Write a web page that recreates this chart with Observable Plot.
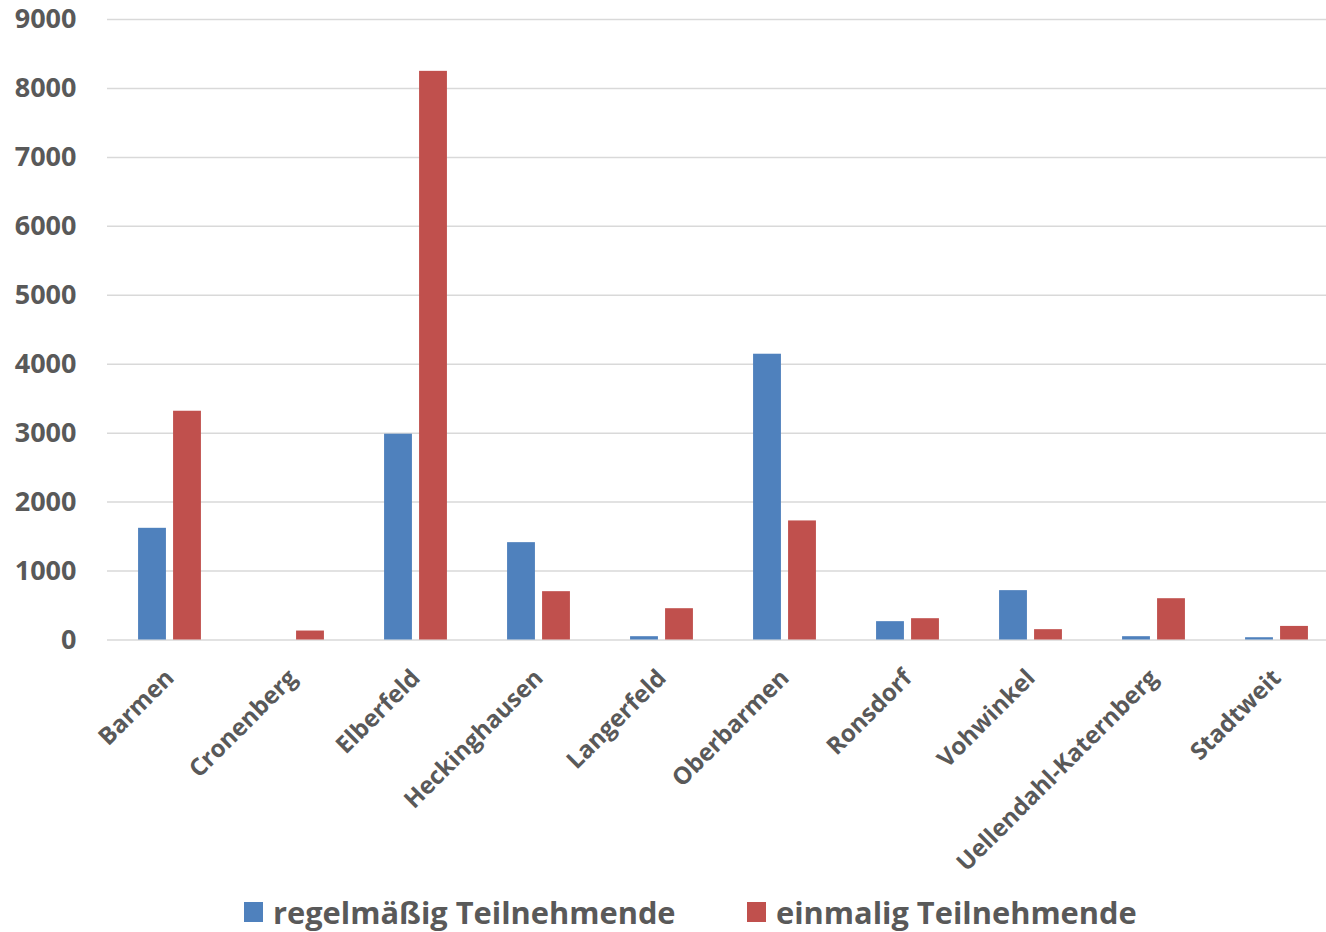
<!DOCTYPE html>
<html><head><meta charset="utf-8">
<script src="https://cdn.jsdelivr.net/npm/d3@7"></script>
<script src="https://cdn.jsdelivr.net/npm/@observablehq/plot@0.6"></script>
<style>
body{margin:0;background:#fff;font-family:"Open Sans",sans-serif;}
#wrap{position:relative;width:1326px;height:932px;overflow:hidden;}
#wrap svg{position:absolute;left:0;top:0;}
.legend-item{position:absolute;top:894px;display:flex;align-items:center;font-weight:700;font-size:30.8px;color:#595959;line-height:36px;height:36px;}
.sw{width:19px;height:20px;margin-right:10px;}
</style></head><body><div id="wrap"></div>
<script>
const categories = ["Barmen","Cronenberg","Elberfeld","Heckinghausen","Langerfeld","Oberbarmen","Ronsdorf","Vohwinkel","Uellendahl-Katernberg","Stadtweit"];
const regelmaessig = [1620, 0, 2985, 1412, 48, 4145, 266, 716, 48, 33];
const einmalig = [3318, 130, 8248, 701, 454, 1727, 309, 150, 599, 197];
const seriesNames = ["regelmäßig Teilnehmende", "einmalig Teilnehmende"];
const seriesColors = ["#4f81bd", "#c0504d"];
const yTicks = [0, 1000, 2000, 3000, 4000, 5000, 6000, 7000, 8000, 9000];

const data = categories.flatMap((c, i) => [
  {category: c, series: seriesNames[0], value: regelmaessig[i]},
  {category: c, series: seriesNames[1], value: einmalig[i]}
]);

const step = 123.15;
const left = 107;
const barW = 28, gap = 7;
const off = (step - (2 * barW + gap)) / 2;

const chart = Plot.plot({
  width: 1326,
  height: 880,
  marginLeft: left,
  marginRight: 0,
  marginTop: 19,
  marginBottom: 240.5,
  style: {color: "#595959", fontFamily: "'Open Sans', sans-serif", fontWeight: "bold", background: "#fff", overflow: "hidden"},
  x: {type: "band", domain: categories, range: [left, left + step * categories.length], padding: 0},
  y: {domain: [0, 9000], range: [639.5, 19]},
  marks: [
    Plot.ruleY(yTicks, {stroke: "#d9d9d9", strokeWidth: 1.5}),
    Plot.barY(data.filter(d => d.series === seriesNames[0]), {x: "category", y: "value", fill: seriesColors[0], insetLeft: off, insetRight: step - off - barW}),
    Plot.barY(data.filter(d => d.series === seriesNames[1]), {x: "category", y: "value", fill: seriesColors[1], insetLeft: off + barW + gap, insetRight: off}),
    Plot.axisY({ticks: yTicks, tickSize: 0, tickPadding: 31, fontSize: 27, label: null, tickFormat: d => String(d)}),
    Plot.axisX({tickRotate: -45, tickSize: 0, tickPadding: 34, fontSize: 24, label: null})
  ]
});
const wrap = document.getElementById("wrap");
wrap.appendChild(chart);
const legendLefts = [244, 747];
seriesNames.forEach((name, i) => {
  const item = document.createElement("div");
  item.className = "legend-item";
  item.style.left = legendLefts[i] + "px";
  const sw = document.createElement("div");
  sw.className = "sw";
  sw.style.background = seriesColors[i];
  const t = document.createElement("span");
  t.textContent = name;
  item.appendChild(sw);
  item.appendChild(t);
  wrap.appendChild(item);
});
</script></body></html>
